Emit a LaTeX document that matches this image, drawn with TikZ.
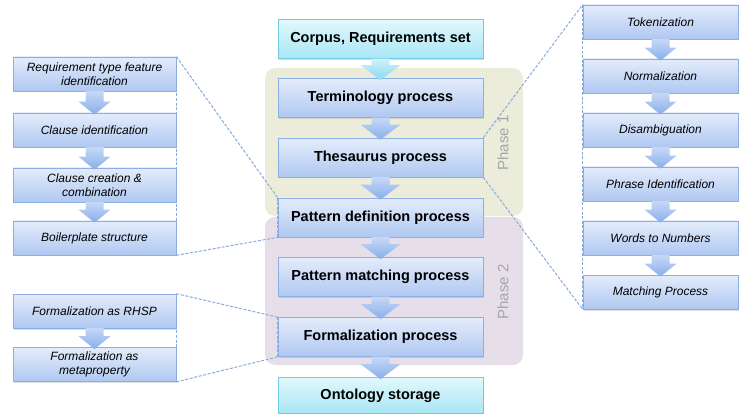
\documentclass[tikz,border=0pt]{standalone}
\usepackage{fontspec}
\setmainfont{Liberation Sans}
\usetikzlibrary{calc,shadows}
\definecolor{mainbord}{HTML}{8DAEE4}
\definecolor{maintop}{HTML}{E4ECFB}
\definecolor{mainbot}{HTML}{AFC8F1}
\definecolor{cyanbord}{HTML}{6FCBE0}
\definecolor{cyantop}{HTML}{E2F8FC}
\definecolor{cyanbot}{HTML}{A8E6F5}
\definecolor{phaseone}{HTML}{EBEDDA}
\definecolor{phasetwo}{HTML}{E6DFEA}
\definecolor{phasetext}{HTML}{A6A6A6}
\definecolor{zoomcol}{HTML}{8AAAD8}
\definecolor{arrtop}{HTML}{C6D8F7}
\definecolor{arrbot}{HTML}{88AEEA}
\definecolor{carrtop}{HTML}{CFF2FB}
\definecolor{carrbot}{HTML}{8CD9EE}
\tikzset{
  boxbase/.style={draw, line width=0.7pt, inner sep=2pt, align=center,
    drop shadow={opacity=0.25, shadow xshift=1.2pt, shadow yshift=-1.5pt}},
  mainbox/.style={boxbase, draw=mainbord, top color=maintop, bottom color=mainbot,
    minimum width=205pt, minimum height=39pt, font=\bfseries\fontsize{14.5}{16}\selectfont},
  endbox/.style={mainbox, draw=cyanbord, top color=cyantop, bottom color=cyanbot},
  sidebox/.style={boxbase, draw=mainbord, top color=maintop, bottom color=mainbot,
    minimum height=34pt, font=\itshape\fontsize{12}{14}\selectfont},
  leftbox/.style={sidebox, minimum width=163pt},
  rightbox/.style={sidebox, minimum width=155pt},
  phasebg/.style={rounded corners=10pt},
  phaselabel/.style={rotate=90, text=phasetext, font=\fontsize{15}{17}\selectfont},
  zoomline/.style={draw=zoomcol, line width=1pt, dash pattern=on 3pt off 1.6pt},
  arrblue/.style={top color=arrtop, bottom color=arrbot, draw=none},
  arrcyan/.style={top color=carrtop, bottom color=carrbot, draw=none},
}
% block arrow from node #1 down to node #2: #3 style, #4 shaft half width, #5 head half width, #6 head height
\newcommand\blockarr[6]{%
  \shade[#3] let \p1=(#1.south), \p2=(#2.north) in
    (\x2-#4pt,\y1+0.3pt) -- (\x2+#4pt,\y1+0.3pt) -- (\x2+#4pt,\y2-2pt+#6pt) -- (\x2+#5pt,\y2-2pt+#6pt)
    -- (\x2,\y2-2pt) -- (\x2-#5pt,\y2-2pt+#6pt) -- (\x2-#4pt,\y2-2pt+#6pt) -- cycle;}
\begin{document}
\begin{tikzpicture}[x=1pt,y=-1pt]
\useasboundingbox (0,0) rectangle (739,414);
% phase backgrounds
\fill[phaseone, phasebg] (265,68) rectangle (523,216);
\fill[phasetwo, phasebg] (265,217) rectangle (523,365);
\node[phaselabel] (ph1) at (503,143) {Phase 1};
\node[phaselabel] (ph2) at (503,292) {Phase 2};
% central nodes
\node[endbox] (corpus) at (380.5,39) {Corpus, Requirements set};
\node[mainbox] (term) at (380.5,98) {Terminology process};
\node[mainbox] (thes) at (380.5,157.5) {Thesaurus process};
\node[mainbox] (pdef) at (380.5,217.5) {Pattern definition process};
\node[mainbox] (pmatch) at (380.5,277) {Pattern matching process};
\node[mainbox] (form) at (380.5,337) {Formalization process};
\node[endbox, minimum height=36pt] (onto) at (380.5,395.5) {Ontology storage};
% left column
\node[leftbox] (req) at (94.5,74) {Requirement type feature\\identification};
\node[leftbox] (clid) at (94.5,130) {Clause identification};
\node[leftbox] (clcr) at (94.5,185) {Clause creation \&\\combination};
\node[leftbox] (boiler) at (94.5,238) {Boilerplate structure};
\node[leftbox] (rhsp) at (94.5,311) {Formalization as RHSP};
\node[leftbox] (meta) at (94.5,364.5) {Formalization as\\metaproperty};
% right column
\node[rightbox] (tok) at (660.5,22) {Tokenization};
\node[rightbox] (norm) at (660.5,76) {Normalization};
\node[rightbox] (dis) at (660.5,130) {Disambiguation};
\node[rightbox] (phr) at (660.5,184) {Phrase Identification};
\node[rightbox] (w2n) at (660.5,238) {Words to Numbers};
\node[rightbox] (match) at (660.5,292) {Matching Process};
% zoom lines
\draw[zoomline] (req.north east) -- (pdef.north west);
\draw[zoomline] (boiler.south east) -- (pdef.south west);
\draw[zoomline] (req.north east) -- (boiler.south east);
\draw[zoomline] (pdef.north west) -- (pdef.south west);
\draw[zoomline] (rhsp.north east) -- (form.north west);
\draw[zoomline] (meta.south east) -- (form.south west);
\draw[zoomline] (rhsp.north east) -- (meta.south east);
\draw[zoomline] (form.north west) -- (form.south west);
\draw[zoomline] (thes.north east) -- (tok.north west);
\draw[zoomline] (thes.south east) -- (match.south west);
\draw[zoomline] (tok.north west) -- (match.south west);
% block arrows
\blockarr{corpus}{term}{arrcyan}{9}{20}{15}
\blockarr{term}{thes}{arrblue}{9}{20}{15}
\blockarr{thes}{pdef}{arrblue}{9}{20}{15}
\blockarr{pdef}{pmatch}{arrblue}{9}{20}{15}
\blockarr{pmatch}{form}{arrblue}{9}{20}{15}
\blockarr{form}{onto}{arrblue}{9}{20}{15}
\blockarr{req}{clid}{arrblue}{9}{16}{13}
\blockarr{clid}{clcr}{arrblue}{9}{16}{13}
\blockarr{clcr}{boiler}{arrblue}{9}{16}{13}
\blockarr{rhsp}{meta}{arrblue}{9}{16}{13}
\blockarr{tok}{norm}{arrblue}{9}{16}{13}
\blockarr{norm}{dis}{arrblue}{9}{16}{13}
\blockarr{dis}{phr}{arrblue}{9}{16}{13}
\blockarr{phr}{w2n}{arrblue}{9}{16}{13}
\blockarr{w2n}{match}{arrblue}{9}{16}{13}
\end{tikzpicture}
\end{document}
